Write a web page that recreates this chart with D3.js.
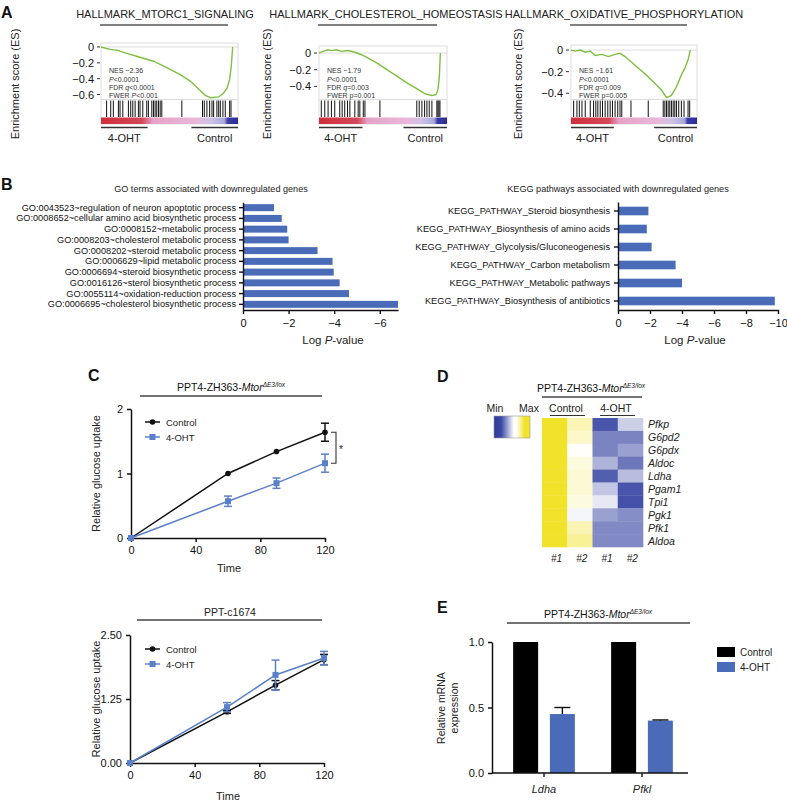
<!DOCTYPE html>
<html><head><meta charset="utf-8">
<script src="https://cdn.jsdelivr.net/npm/d3@7"></script>
<style>body{margin:0;background:#fff}svg{display:block}</style>
</head><body><svg id="c" width="787" height="802"></svg>
<script>
// ---------------- DATA ----------------
const gseaTitles = ["HALLMARK_MTORC1_SIGNALING","HALLMARK_CHOLESTEROL_HOMEOSTASIS","HALLMARK_OXIDATIVE_PHOSPHORYLATION"];
const gseaNES = ["NES \u22122.36","NES \u22121.79","NES \u22121.61"];
const gseaFDR = [["q","<0.0001"],["q","=0.003"],["q","=0.009"]];
const gseaFWER = [["P","<0.001"],["p","=0.001"],["p","=0.005"]];
const gseaTicks = [[0,-0.2,-0.4,-0.6],[0,-0.2,-0.4],[0,-0.2,-0.4]];
const esRank1 = [0,0.066,0.115,0.188,0.285,0.383,0.480,0.578,0.651,0.724,0.761,0.798,0.859,0.895,0.920,0.939,0.951,0.961];
const esScore1 = [0,-0.03,-0.04,-0.08,-0.13,-0.18,-0.26,-0.35,-0.43,-0.55,-0.61,-0.64,-0.63,-0.58,-0.52,-0.41,-0.24,0];
const esRank2 = [0,0.031,0.071,0.097,0.136,0.175,0.228,0.280,0.332,0.385,0.463,0.542,0.620,0.699,0.777,0.829,0.882,0.914,0.929,0.940,0.948];
const esScore2 = [0,0.02,0.04,0.03,0.04,0.02,0.03,0.01,-0.02,-0.06,-0.13,-0.21,-0.29,-0.37,-0.44,-0.49,-0.51,-0.50,-0.44,-0.29,0];
const esRank3 = [0,0.034,0.074,0.113,0.153,0.192,0.245,0.297,0.350,0.389,0.429,0.508,0.587,0.666,0.718,0.758,0.797,0.837,0.876,0.903,0.929,0.947];
const esScore3 = [0,-0.01,0,-0.02,-0.01,-0.05,-0.04,-0.06,-0.04,-0.03,-0.06,-0.14,-0.22,-0.31,-0.37,-0.44,-0.42,-0.34,-0.23,-0.17,-0.09,0];
const hits1 = [0.041,0.071,0.090,0.127,0.139,0.159,0.200,0.217,0.232,0.249,0.273,0.285,0.305,0.334,0.346,0.371,0.383,0.395,0.407,0.420,0.432,0.444,0.590,0.741,0.754,0.773,0.793,0.810,0.822,0.846,0.859,0.871,0.890,0.907,0.939,0.949];
const hits2 = [0.018,0.045,0.071,0.097,0.123,0.162,0.181,0.201,0.223,0.241,0.280,0.306,0.319,0.346,0.359,0.476,0.764,0.783,0.804,0.825,0.843,0.861,0.882,0.921,0.929,0.937,0.945];
const hits3 = [0.021,0.047,0.066,0.087,0.113,0.153,0.179,0.197,0.213,0.232,0.250,0.271,0.292,0.311,0.329,0.350,0.371,0.389,0.403,0.476,0.613,0.732,0.745,0.758,0.771,0.784,0.797,0.811,0.824,0.837,0.855,0.876,0.897,0.929,0.942];

const goTerms = ["GO:0043523~regulation of neuron apoptotic process","GO:0008652~cellular amino acid biosynthetic process","GO:0008152~metabolic process","GO:0008203~cholesterol metabolic process","GO:0008202~steroid metabolic process","GO:0006629~lipid metabolic process","GO:0006694~steroid biosynthetic process","GO:0016126~sterol biosynthetic process","GO:0055114~oxidation-reduction process","GO:0006695~cholesterol biosynthetic process"];
const goLogP = [-1.36,-1.7,-1.94,-2.0,-3.27,-3.93,-3.98,-4.24,-4.65,-6.8];
const goTicks = [0,-2,-4,-6];
const keggTerms = ["KEGG_PATHWAY_Steroid biosynthesis","KEGG_PATHWAY_Biosynthesis of amino acids","KEGG_PATHWAY_Glycolysis/Gluconeogenesis","KEGG_PATHWAY_Carbon metabolism","KEGG_PATHWAY_Metabolic pathways","KEGG_PATHWAY_Biosynthesis of antibiotics"];
const keggLogP = [-1.9,-1.8,-2.1,-3.6,-4.0,-9.8];
const keggTicks = [0,-2,-4,-6,-8,-10];

const timePoints = [0,60,90,120];
const timeTicks = [0,40,80,120];
const ctrlTop = [0,1.0,1.34,1.64];
const ctrlTopErr = [0,0.01,0.01,0.14];
const ohtTop = [0,0.57,0.85,1.16];
const ohtTopErr = [0,0.08,0.08,0.14];
const topTicks = [0,1,2];
const ctrlBot = [0,1.0,1.52,2.02];
const ctrlBotErr = [0,0.03,0.09,0.1];
const ohtBot = [0,1.09,1.72,2.05];
const ohtBotErr = [0,0.09,0.29,0.13];
const botTicks = [0,1.25,2.5];

const heatGenes = ["Pfkp","G6pd2","G6pdx","Aldoc","Ldha","Pgam1","Tpi1","Pgk1","Pfk1","Aldoa"];
const heatCols = ["#1","#2","#1","#2"];
const heatCtrl1 = [1,1,1,1,1,1,1,1,1,1];
const heatCtrl2 = [0.35,0.25,0.03,0.15,0.2,0.2,0.15,-0.05,0.35,0.5];
const heatOht1 = [-0.9,-0.65,-0.65,-0.4,-0.85,-0.3,-0.12,-0.5,-0.62,-0.62];
const heatOht2 = [-0.25,-0.65,-0.5,-0.72,-0.35,-0.9,-0.92,-0.6,-0.62,-0.62];

const eGenes = ["Ldha","Pfkl"];
const eGroups = ["Control","4-OHT"];
const eControl = [1,1];
const eOHT = [0.45,0.40];
const eOHTErr = [0.05,0.005];
const eTicks = [0,0.5,1.0];

// ---------------- DRAW ----------------
const FONT = '"Liberation Sans", Arial, Helvetica, sans-serif';
const svg = d3.select("#c").attr("font-family", FONT);
const BLUE = "#4a6cb8", LBLUE = "#5b80c8";

function txt(x, y, s, size, opts = {}) {
  const t = svg.append("text").attr("x", x).attr("y", y).attr("font-size", size)
    .attr("text-anchor", opts.anchor || "start").attr("fill", opts.fill || "#111");
  if (opts.bold) t.attr("font-weight", "bold");
  if (opts.italic) t.attr("font-style", "italic");
  if (opts.rotate) t.attr("transform", `rotate(-90,${x},${y})`);
  t.text(s);
  return t;
}
function hline(x1, x2, y, w = 1.3, c = "#333") {
  svg.append("line").attr("x1", x1).attr("x2", x2).attr("y1", y).attr("y2", y).attr("stroke", c).attr("stroke-width", w);
}
function mtorTitle(cx, y, size) {
  const t = svg.append("text").attr("x", cx).attr("y", y).attr("font-size", size).attr("text-anchor", "middle").attr("fill", "#111");
  t.append("tspan").text("PPT4-ZH363-");
  t.append("tspan").attr("font-style", "italic").text("Mtor");
  t.append("tspan").attr("font-size", size * 0.62).attr("dy", -size * 0.4).attr("font-style", "italic").text("\u0394E3/lox");
}

// Panel letters
txt(1, 18, "A", 16, {bold: true});
txt(1, 190, "B", 16, {bold: true});
txt(88, 381, "C", 16, {bold: true});
txt(437, 382, "D", 16, {bold: true});
txt(437, 613, "E", 16, {bold: true});

// ---------- Panel A: GSEA ----------
const defs = svg.append("defs");
const grad = defs.append("linearGradient").attr("id", "rankGrad");
[[0,"#cf2f3a"],[0.3,"#d4475a"],[0.38,"#e6a2c8"],[0.7,"#e8b8da"],[0.8,"#cdc3e6"],[0.9,"#a8a8dc"],[0.925,"#3b3ba3"],[1,"#2c2c98"]]
  .forEach(([o, c]) => grad.append("stop").attr("offset", o).attr("stop-color", c));

const gseaCfg = [
  {left:101, right:238, top:43, yDom:[-0.6625,0.05], tickX:95, ylabX:19, rank:esRank1, es:esScore1, hits:hits1, titleX:165},
  {left:319, right:447, top:46, yDom:[-0.558,0.085], tickX:312, ylabX:271, rank:esRank2, es:esScore2, hits:hits2, titleX:386},
  {left:571, right:697, top:45, yDom:[-0.458,0.047], tickX:564, ylabX:522, rank:esRank3, es:esScore3, hits:hits3, titleX:624}
];
const curveBottom = 99.5, hitBottom = 117, barTop = 117.5, barBottom = 124;
gseaCfg.forEach((c, i) => {
  const x = d3.scaleLinear().domain([0,1]).range([c.left, c.right]);
  const y = d3.scaleLinear().domain(c.yDom).range([curveBottom, c.top]);
  const g = svg.append("g");
  g.append("rect").attr("x", c.left).attr("y", c.top).attr("width", c.right - c.left).attr("height", barBottom - c.top)
    .attr("fill", "none").attr("stroke", "#d4d4d4").attr("stroke-width", 0.8);
  g.append("line").attr("x1", c.left).attr("x2", c.right).attr("y1", y(0)).attr("y2", y(0)).attr("stroke", "#d4d4d4").attr("stroke-width", 0.8);
  g.append("line").attr("x1", c.left).attr("x2", c.right).attr("y1", curveBottom).attr("y2", curveBottom).attr("stroke", "#d4d4d4").attr("stroke-width", 0.8);
  g.selectAll(".hit").data(c.hits).join("line")
    .attr("x1", d => x(d)).attr("x2", d => x(d)).attr("y1", curveBottom + 1).attr("y2", hitBottom)
    .attr("stroke", "#111").attr("stroke-width", 1);
  g.append("rect").attr("x", c.left).attr("y", barTop).attr("width", c.right - c.left).attr("height", barBottom - barTop).attr("fill", "url(#rankGrad)");
  const line = d3.line().x(d => x(d[0])).y(d => y(d[1]));
  g.append("path").datum(c.rank.map((r, k) => [r, c.es[k]])).attr("d", line)
    .attr("fill", "none").attr("stroke", "#7fbf3f").attr("stroke-width", 1.4);
  gseaTicks[i].forEach(t => {
    g.append("line").attr("x1", c.tickX + 2).attr("x2", c.tickX + 5).attr("y1", y(t)).attr("y2", y(t)).attr("stroke", "#333").attr("stroke-width", 1);
    txt(c.tickX - 1, y(t) + 4, t === 0 ? "0" : d3.format(".1f")(t), 11, {anchor: "end"});
  });
  txt(c.ylabX, 84, "Enrichment score (ES)", 11, {anchor: "middle", rotate: true, fill: "#222"});
  txt(c.titleX, 18, gseaTitles[i], 11, {anchor: "middle", fill: "#222"});
  hline(c.left - 1, c.right - 10, 25, 1.5, "#555");
  // stats
  const sx = c.left + 8, fs = 7;
  txt(sx, 73, gseaNES[i], fs, {fill: "#333"});
  const p = svg.append("text").attr("x", sx).attr("y", 81.5).attr("font-size", fs).attr("fill", "#333");
  p.append("tspan").attr("font-style", "italic").text("P"); p.append("tspan").text("<0.0001");
  const f = svg.append("text").attr("x", sx).attr("y", 90).attr("font-size", fs).attr("fill", "#333");
  f.append("tspan").text("FDR "); f.append("tspan").attr("font-style", "italic").text(gseaFDR[i][0]); f.append("tspan").text(gseaFDR[i][1]);
  const w = svg.append("text").attr("x", sx).attr("y", 98).attr("font-size", fs).attr("fill", "#333");
  w.append("tspan").text("FWER "); w.append("tspan").attr("font-style", i === 0 ? "italic" : "normal").text(gseaFWER[i][0]); w.append("tspan").text(gseaFWER[i][1]);
  // group labels
  hline(x(0), x(0.34), 127.5, 1.3, "#333");
  hline(x(0.66), x(1), 127.5, 1.3, "#333");
  txt(x(0.17), 142, "4-OHT", 11, {anchor: "middle", fill: "#222"});
  txt(x(0.83), 142, "Control", 11, {anchor: "middle", fill: "#222"});
});

// ---------- Panel B ----------
function styleAxis(g, sw) {
  g.selectAll("path,line").attr("stroke", "#111").attr("stroke-width", sw);
  g.selectAll("text").attr("font-family", FONT).attr("fill", "#111");
}
// GO
{
  const y = d3.scaleBand().domain(goTerms).range([202.3, 309.7]).paddingInner(0.35).paddingOuter(0.175);
  const x = d3.scaleLinear().domain([0, -6.8]).range([243, 398]);
  svg.append("g").selectAll("rect").data(goTerms).join("rect")
    .attr("x", x(0)).attr("y", d => y(d)).attr("height", y.bandwidth())
    .attr("width", (d, i) => x(goLogP[i]) - x(0)).attr("fill", BLUE);
  const ay = svg.append("g").attr("transform", "translate(243,0)").call(d3.axisLeft(y).tickSize(4).tickSizeOuter(0).tickPadding(3));
  styleAxis(ay, 1.4); ay.selectAll("text").attr("font-size", 9.2);
  const ax = svg.append("g").attr("transform", "translate(0,310)").call(d3.axisBottom(x).tickValues(goTicks).tickFormat(d3.format("d")).tickSize(4).tickSizeOuter(0).tickPadding(5));
  styleAxis(ax, 1.4); ax.selectAll("text").attr("font-size", 11);
  txt(211, 192, "GO terms associated with downregulated genes", 9.1, {anchor: "middle", fill: "#222"});
  const l = svg.append("text").attr("x", 333).attr("y", 344).attr("font-size", 11.5).attr("text-anchor", "middle").attr("fill", "#222");
  l.append("tspan").text("Log "); l.append("tspan").attr("font-style", "italic").text("P"); l.append("tspan").text("-value");
}
// KEGG
{
  const y = d3.scaleBand().domain(keggTerms).range([202, 310]).paddingInner(0.52).paddingOuter(0.26);
  const x = d3.scaleLinear().domain([0, -10]).range([618, 778]);
  svg.append("g").selectAll("rect").data(keggTerms).join("rect")
    .attr("x", x(0)).attr("y", d => y(d)).attr("height", y.bandwidth())
    .attr("width", (d, i) => x(keggLogP[i]) - x(0)).attr("fill", BLUE);
  const ay = svg.append("g").attr("transform", "translate(618,0)").call(d3.axisLeft(y).tickSize(4).tickSizeOuter(0).tickPadding(4));
  styleAxis(ay, 1.4); ay.selectAll("text").attr("font-size", 9.2);
  const ax = svg.append("g").attr("transform", "translate(0,310)").call(d3.axisBottom(x).tickValues(keggTicks).tickFormat(d3.format("d")).tickSize(4).tickSizeOuter(0).tickPadding(5));
  styleAxis(ax, 1.4); ax.selectAll("text").attr("font-size", 11);
  txt(618, 192, "KEGG pathways associated with downregulated genes", 9.1, {anchor: "middle", fill: "#222"});
  const l = svg.append("text").attr("x", 695).attr("y", 344).attr("font-size", 11.5).attr("text-anchor", "middle").attr("fill", "#222");
  l.append("tspan").text("Log "); l.append("tspan").attr("font-style", "italic").text("P"); l.append("tspan").text("-value");
}

// ---------- Panel C ----------
function linePanel(cfg) {
  const x = d3.scaleLinear().domain([0, 120]).range(cfg.xr);
  const y = d3.scaleLinear().domain(cfg.yd).range(cfg.yr);
  const ax = svg.append("g").attr("transform", `translate(0,${cfg.yr[0]})`).call(d3.axisBottom(x).tickValues(timeTicks).tickSize(4).tickSizeOuter(0).tickPadding(4));
  styleAxis(ax, 1.5); ax.selectAll("text").attr("font-size", 11);
  const ay = svg.append("g").attr("transform", `translate(${cfg.xr[0]},0)`).call(d3.axisLeft(y).tickValues(cfg.ticks).tickFormat(d3.format(cfg.fmt)).tickSize(4).tickSizeOuter(0).tickPadding(4));
  styleAxis(ay, 1.5); ay.selectAll("text").attr("font-size", 11);
  const series = [
    {v: cfg.ctrl, e: cfg.ctrlErr, c: "#111", m: "circle"},
    {v: cfg.oht, e: cfg.ohtErr, c: LBLUE, m: "square"}
  ];
  const ln = d3.line().x((d, i) => x(timePoints[i])).y(d => y(d));
  series.forEach(s => {
    svg.append("path").datum(s.v).attr("d", ln).attr("fill", "none").attr("stroke", s.c).attr("stroke-width", 1.5);
    s.v.forEach((v, i) => {
      if (s.e[i] > 0.02) {
        const xx = x(timePoints[i]);
        svg.append("line").attr("x1", xx).attr("x2", xx).attr("y1", y(v - s.e[i])).attr("y2", y(v + s.e[i])).attr("stroke", s.c).attr("stroke-width", 1.5);
        [v - s.e[i], v + s.e[i]].forEach(b => svg.append("line").attr("x1", xx - 4).attr("x2", xx + 4).attr("y1", y(b)).attr("y2", y(b)).attr("stroke", s.c).attr("stroke-width", 1.5));
      }
      if (s.m === "circle") svg.append("circle").attr("cx", x(timePoints[i])).attr("cy", y(v)).attr("r", 2.8).attr("fill", s.c);
      else svg.append("rect").attr("x", x(timePoints[i]) - 3).attr("y", y(v) - 3).attr("width", 6).attr("height", 6).attr("fill", s.c);
    });
  });
  // legend
  const L = cfg.legY;
  hline(145, 160, L, 1.5, "#111"); svg.append("circle").attr("cx", 152.5).attr("cy", L).attr("r", 2.8).attr("fill", "#111");
  txt(166, L + 3.5, "Control", 9.5, {fill: "#222"});
  hline(145, 160, L + 15, 1.5, LBLUE); svg.append("rect").attr("x", 149.5).attr("y", L + 12).attr("width", 6).attr("height", 6).attr("fill", LBLUE);
  txt(166, L + 18.5, "4-OHT", 9.5, {fill: "#222"});
  txt((cfg.xr[0] + cfg.xr[1]) / 2 + 1, cfg.timeY, "Time", 11, {anchor: "middle", fill: "#222"});
  txt(100, (cfg.yr[0] + cfg.yr[1]) / 2, "Relative glucose uptake", 11, {anchor: "middle", rotate: true, fill: "#222"});
  return {x, y};
}
{
  const s = linePanel({xr: [131, 325], yd: [0, 2], yr: [538, 409], ticks: topTicks, fmt: "d", ctrl: ctrlTop, ctrlErr: ctrlTopErr, oht: ohtTop, ohtErr: ohtTopErr, legY: 422, timeY: 572});
  mtorTitle(231, 391, 10.5);
  hline(140, 322, 396, 1.3, "#444");
  const yA = s.y(ctrlTop[3]), yB = s.y(ohtTop[3]), xb = s.x(120) + 6;
  svg.append("path").attr("d", `M${xb},${yA}H${xb + 5}V${yB}H${xb}`).attr("fill", "none").attr("stroke", "#333").attr("stroke-width", 1.1);
  txt(xb + 8, (yA + yB) / 2 + 5, "*", 10, {fill: "#222"});
}
{
  linePanel({xr: [130, 324], yd: [0, 2.5], yr: [763, 635], ticks: botTicks, fmt: ".2f", ctrl: ctrlBot, ctrlErr: ctrlBotErr, oht: ohtBot, ohtErr: ohtBotErr, legY: 649, timeY: 800});
  txt(230, 616, "PPT-c1674", 10.5, {anchor: "middle", fill: "#222"});
  hline(137, 322, 620, 1.3, "#444");
}

// ---------- Panel D: heatmap ----------
{
  const cols = [heatCtrl1, heatCtrl2, heatOht1, heatOht2];
  const x = d3.scaleBand().domain(d3.range(4)).range([542, 643]);
  const y = d3.scaleBand().domain(heatGenes).range([418, 547]);
  const color = d3.scaleLinear().domain([-1, 0, 1]).range(["#3442a0", "#ffffff", "#f1e22a"]);
  cols.forEach((col, ci) => {
    svg.append("g").selectAll("rect").data(heatGenes).join("rect")
      .attr("x", x(ci)).attr("y", d => y(d)).attr("width", x.bandwidth() + 0.3).attr("height", y.bandwidth() + 0.3)
      .attr("fill", (d, gi) => color(col[gi]));
  });
  heatGenes.forEach(g => txt(648, y(g) + y.bandwidth() / 2 + 4, g, 10.5, {italic: true, fill: "#222"}));
  heatCols.forEach((c, i) => txt(x(i) + x.bandwidth() / 2 + 2, 562, c, 10, {anchor: "middle", italic: true, fill: "#222"}));
  mtorTitle(591, 392, 10.5);
  hline(542, 642, 397, 1.3, "#444");
  txt(566, 412, "Control", 10.5, {anchor: "middle", fill: "#222"});
  hline(550, 585, 415.5, 1.2, "#333");
  txt(616, 412, "4-OHT", 10.5, {anchor: "middle", fill: "#222"});
  hline(600, 635, 415.5, 1.2, "#333");
  txt(495, 412, "Min", 10.5, {anchor: "middle", fill: "#222"});
  txt(529, 412, "Max", 10.5, {anchor: "middle", fill: "#222"});
  const lg = defs.append("linearGradient").attr("id", "heatGrad");
  [[0,"#2e3a98"],[0.2,"#3a48a5"],[0.55,"#ffffff"],[0.62,"#ffffff"],[0.85,"#f1e22a"],[1,"#f1e22a"]]
    .forEach(([o, c]) => lg.append("stop").attr("offset", o).attr("stop-color", c));
  svg.append("rect").attr("x", 494).attr("y", 416).attr("width", 36).attr("height", 22).attr("fill", "url(#heatGrad)").attr("stroke", "#999").attr("stroke-width", 0.6);
}

// ---------- Panel E ----------
{
  const x0 = d3.scaleBand().domain(eGenes).range([495, 691]).paddingInner(0.37).paddingOuter(0.185);
  const x1 = d3.scaleBand().domain(eGroups).range([0, x0.bandwidth()]).paddingInner(0.32);
  const y = d3.scaleLinear().domain([0, 1]).range([773, 642]);
  const vals = [eControl, eOHT];
  const cols = ["#000", BLUE];
  eGroups.forEach((grp, gi) => {
    svg.append("g").selectAll("rect").data(eGenes).join("rect")
      .attr("x", d => x0(d) + x1(grp)).attr("width", x1.bandwidth())
      .attr("y", (d, i) => y(vals[gi][i])).attr("height", (d, i) => y(0) - y(vals[gi][i])).attr("fill", cols[gi]);
  });
  eGenes.forEach((g, i) => {
    const cx = x0(g) + x1("4-OHT") + x1.bandwidth() / 2;
    const top = y(eOHT[i] + eOHTErr[i]);
    svg.append("line").attr("x1", cx).attr("x2", cx).attr("y1", y(eOHT[i])).attr("y2", top).attr("stroke", "#111").attr("stroke-width", 1.4);
    svg.append("line").attr("x1", cx - 8).attr("x2", cx + 8).attr("y1", top).attr("y2", top).attr("stroke", "#111").attr("stroke-width", 1.4);
  });
  hline(492, 688, 773, 1.5, "#111");
  eGenes.forEach(g => {
    const cx = x0(g) + x0.bandwidth() / 2;
    svg.append("line").attr("x1", cx).attr("x2", cx).attr("y1", 773).attr("y2", 777).attr("stroke", "#111").attr("stroke-width", 1.4);
    txt(cx, 793, g, 11, {anchor: "middle", italic: true, fill: "#222"});
  });
  const ay = svg.append("g").attr("transform", "translate(492,0)").call(d3.axisLeft(y).tickValues(eTicks).tickFormat(d3.format(".1f")).tickSize(4).tickSizeOuter(0).tickPadding(4));
  styleAxis(ay, 1.5); ay.selectAll("text").attr("font-size", 11);
  txt(445, 708, "Relative mRNA", 10.5, {anchor: "middle", rotate: true, fill: "#222"});
  txt(458, 708, "expression", 10.5, {anchor: "middle", rotate: true, fill: "#222"});
  mtorTitle(598, 618, 10.5);
  hline(507, 690, 623, 1.3, "#444");
  svg.append("rect").attr("x", 717).attr("y", 647).attr("width", 18).attr("height", 10).attr("fill", "#000");
  txt(740, 656, "Control", 10, {fill: "#222"});
  svg.append("rect").attr("x", 717).attr("y", 662).attr("width", 18).attr("height", 10).attr("fill", BLUE);
  txt(740, 671, "4-OHT", 10, {fill: "#222"});
}
</script>
</body></html>
